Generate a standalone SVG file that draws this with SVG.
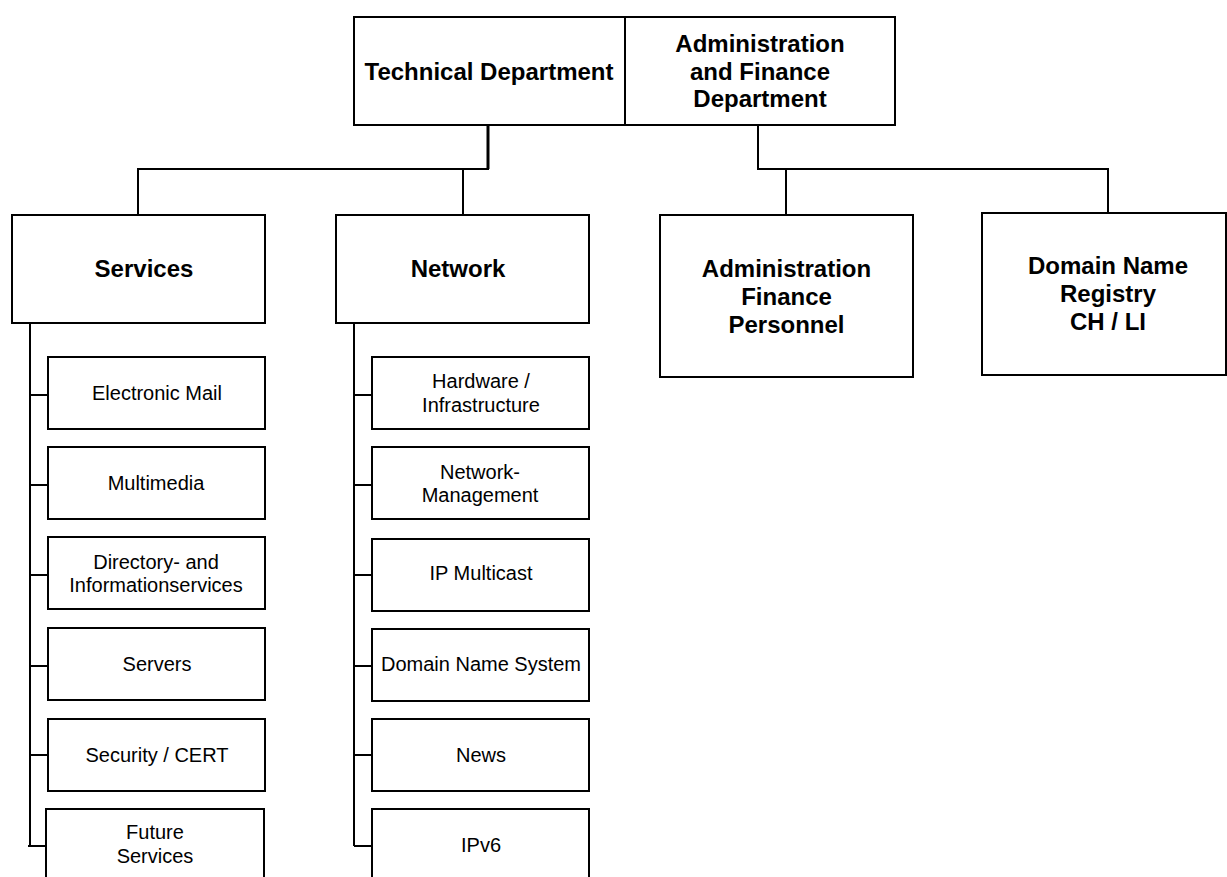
<svg xmlns="http://www.w3.org/2000/svg" width="1227" height="877" viewBox="0 0 1227 877">
<style>
.box{fill:#fff;stroke:#000;stroke-width:2}
.ln{fill:none;stroke:#000;stroke-width:2}
.thick{fill:none;stroke:#000;stroke-width:3}
.b{font-family:"Liberation Sans",Arial,sans-serif;font-weight:bold;font-size:24px;fill:#000;text-anchor:middle}
.r{font-family:"Liberation Sans",Arial,sans-serif;font-size:20px;fill:#000;text-anchor:middle}
</style>
<rect width="1227" height="877" fill="#fff"/>
<g id="connectors">
<path class="thick" d="M488,125 V169"/>
<path class="ln" d="M138,215 V169 H489"/>
<path class="ln" d="M463,169 V215"/>
<path class="ln" d="M758,125 V169 H1108 V213"/>
<path class="ln" d="M786,169 V215"/>
<path class="ln" d="M30,323 V846"/>
<path class="ln" d="M30,395 H48 M30,485 H48 M30,575 H48 M30,666 H48 M30,755 H48 M28,846 H46"/>
<path class="ln" d="M354,323 V846"/>
<path class="ln" d="M354,395 H372 M354,485 H372 M354,575 H372 M354,666 H372 M354,755 H372 M354,846 H372"/>
</g>
<g id="tech"><rect class="box" x="354" y="17" width="271" height="108"/><text class="b" x="489" y="79.5">Technical Department</text></g>
<g id="admin"><rect class="box" x="625" y="17" width="270" height="108"/><text class="b" x="760" y="52">Administration</text><text class="b" x="760" y="79.5">and Finance</text><text class="b" x="760" y="107">Department</text></g>
<g id="services"><rect class="box" x="12" y="215" width="253" height="108"/><text class="b" x="144" y="276.5">Services</text></g>
<g id="network"><rect class="box" x="336" y="215" width="253" height="108"/><text class="b" x="458" y="276.5">Network</text></g>
<g id="afp"><rect class="box" x="660" y="215" width="253" height="162"/><text class="b" x="786.5" y="276.5">Administration</text><text class="b" x="786.5" y="305">Finance</text><text class="b" x="786.5" y="332.5">Personnel</text></g>
<g id="registry"><rect class="box" x="982" y="213" width="244" height="162"/><text class="b" x="1108" y="273.5">Domain Name</text><text class="b" x="1108" y="301.5">Registry</text><text class="b" x="1108" y="330">CH / LI</text></g>
<g id="email"><rect class="box" x="48" y="357" width="217" height="72"/><text class="r" x="157" y="400">Electronic Mail</text></g>
<g id="multimedia"><rect class="box" x="48" y="447" width="217" height="72"/><text class="r" x="156" y="490">Multimedia</text></g>
<g id="directory"><rect class="box" x="48" y="537" width="217" height="72"/><text class="r" x="156" y="569">Directory- and</text><text class="r" x="156" y="592">Informationservices</text></g>
<g id="servers"><rect class="box" x="48" y="628" width="217" height="72"/><text class="r" x="157" y="671">Servers</text></g>
<g id="security"><rect class="box" x="48" y="719" width="217" height="72"/><text class="r" x="157" y="762">Security / CERT</text></g>
<g id="future"><rect class="box" x="46" y="809" width="218" height="72"/><text class="r" x="155" y="839">Future</text><text class="r" x="155" y="863">Services</text></g>
<g id="hardware"><rect class="box" x="372" y="357" width="217" height="72"/><text class="r" x="481" y="388">Hardware /</text><text class="r" x="481" y="412">Infrastructure</text></g>
<g id="netmgmt"><rect class="box" x="372" y="447" width="217" height="72"/><text class="r" x="480" y="479">Network-</text><text class="r" x="480" y="502">Management</text></g>
<g id="multicast"><rect class="box" x="372" y="539" width="217" height="72"/><text class="r" x="481" y="580">IP Multicast</text></g>
<g id="dns"><rect class="box" x="372" y="629" width="217" height="72"/><text class="r" x="481" y="671">Domain Name System</text></g>
<g id="news"><rect class="box" x="372" y="719" width="217" height="72"/><text class="r" x="481" y="762">News</text></g>
<g id="ipv6"><rect class="box" x="372" y="809" width="217" height="72"/><text class="r" x="481" y="852">IPv6</text></g>
</svg>
